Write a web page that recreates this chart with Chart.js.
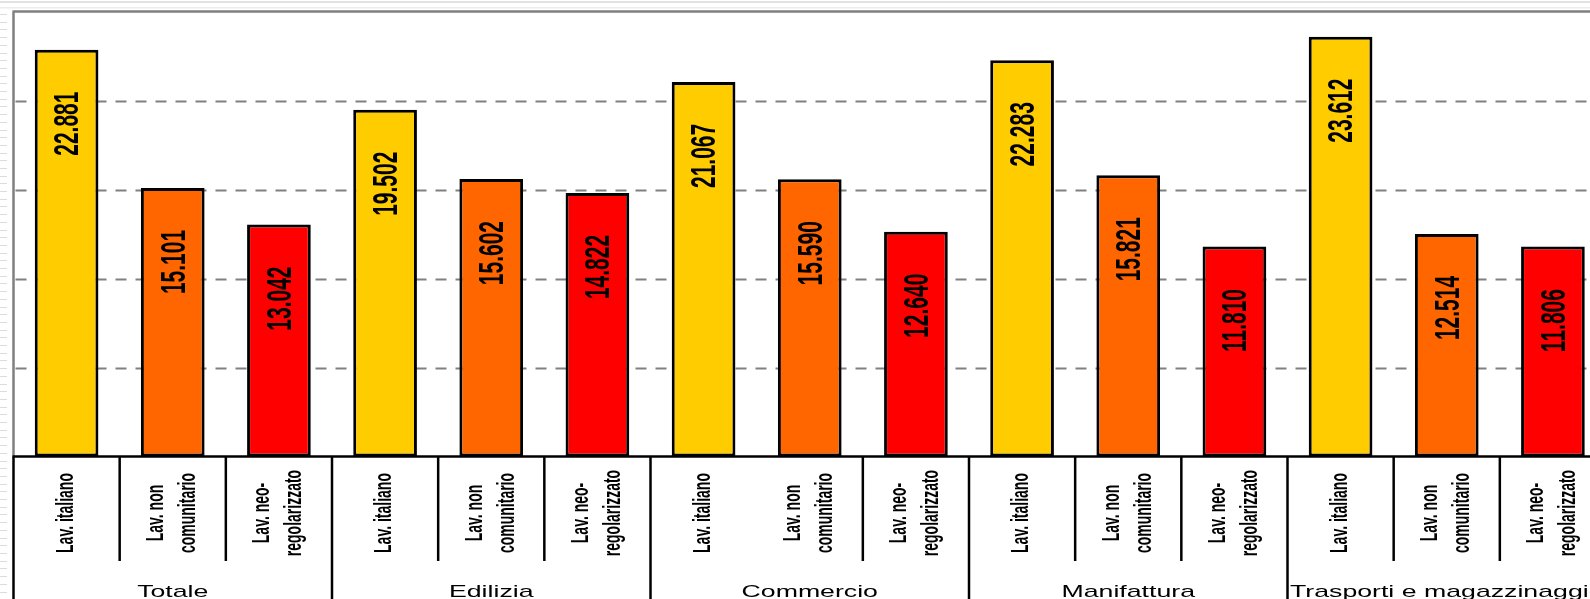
<!DOCTYPE html>
<html lang="it">
<head>
<meta charset="utf-8">
<title>Retribuzioni per tipologia di lavoratore e settore</title>
<script src="https://cdn.jsdelivr.net/npm/chart.js@4/dist/chart.umd.min.js"></script>
<style>
  html, body { margin: 0; padding: 0; background: #ffffff; overflow: hidden; width: 1590px; height: 599px; }
  #wrap { position: relative; width: 1606px; height: 599px; }
  canvas { display: block; }
</style>
</head>
<body>
<div id="wrap"><canvas id="chart" width="1606" height="599"></canvas></div>
<script>
// Sectors (group labels under the axis) and worker types (one bar each per sector)
const sectors = ['Totale', 'Edilizia', 'Commercio', 'Manifattura', 'Trasporti e magazzinaggio'];
const workerTypes = [['Lav. italiano'], ['Lav. non', 'comunitario'], ['Lav. neo-', 'regolarizzato']];

// Values per worker type, one per sector
const italiani         = [22881, 19502, 21067, 22283, 23612];
const nonComunitari    = [15101, 15602, 15590, 15821, 12514];
const neoRegolarizzati = [13042, 14822, 12640, 11810, 11806];

// Value axis
const yTicks = [5000, 10000, 15000, 20000];
const yMax = 25000;

// Category boundaries that carry no separator line (index of the category on the left)
const hiddenDividers = [6];

const seriesValues = [italiani, nonComunitari, neoRegolarizzati];
const seriesColors = ['#FFCC00', '#FF6600', '#FF0000'];

// One category per bar: sector × worker type
const labels = [];
sectors.forEach(() => workerTypes.forEach(t => labels.push(t)));

const datasets = seriesValues.map((vals, k) => {
  const data = labels.map(() => null);
  vals.forEach((v, s) => { data[s * workerTypes.length + k] = v; });
  return {
    label: workerTypes[k].join(' '),
    data,
    backgroundColor: seriesColors[k],
    borderColor: '#000000',
    borderWidth: 3,
    borderSkipped: false,
    grouped: false,
    barPercentage: 0.6,
    categoryPercentage: 1.0
  };
});

const fmt = n => String(n).replace(/\B(?=(\d{3})+(?!\d))/g, '.');

// Slide edge, frame and dashed gridlines behind the bars
const backdrop = {
  id: 'backdrop',
  beforeDatasetsDraw(chart) {
    const { ctx, chartArea: a, scales: { y } } = chart;
    ctx.save();
    // light slide edge
    ctx.fillStyle = '#e2e2e2';
    ctx.fillRect(0, 1, chart.width, 2);
    ctx.fillStyle = '#ececec';
    ctx.fillRect(0, 7, chart.width, 1.5);
    ctx.fillStyle = '#dcdcdc';
    for (let yy = 14; yy < chart.height; yy += 7.7) ctx.fillRect(0, Math.round(yy), 7, 1);

    // dashed gridlines
    ctx.strokeStyle = '#808080';
    ctx.lineWidth = 2;
    ctx.setLineDash([11, 9]);
    yTicks.forEach(v => {
      const py = Math.round(y.getPixelForValue(v)) + 0.5;
      ctx.beginPath();
      ctx.moveTo(a.left + 2, py);
      ctx.lineTo(a.right, py);
      ctx.stroke();
    });
    ctx.setLineDash([]);

    // plot frame: top and left in grey
    ctx.lineWidth = 2.5;
    ctx.beginPath();
    ctx.moveTo(a.left - 1, 11.5);
    ctx.lineTo(chart.width, 11.5);
    ctx.moveTo(a.left, 11.5);
    ctx.lineTo(a.left, a.bottom);
    ctx.stroke();
    ctx.restore();
  }
};

// Value labels, rotated inside the bars
const valueLabels = {
  id: 'valueLabels',
  afterDatasetsDraw(chart) {
    const { ctx } = chart;
    const size = 21, stretch = 1.7;
    ctx.save();
    ctx.fillStyle = '#000000';
    ctx.font = 'bold ' + size + 'px "Liberation Sans", Arial, sans-serif';
    ctx.textAlign = 'center';
    ctx.textBaseline = 'alphabetic';
    chart.data.datasets.forEach((ds, di) => {
      chart.getDatasetMeta(di).data.forEach((el, i) => {
        const v = ds.data[i];
        if (v === null) return;
        ctx.save();
        ctx.translate(el.x - 1, el.y + 74);
        ctx.rotate(-Math.PI / 2);
        ctx.scale(1, stretch);
        ctx.fillText(fmt(v), 0, size * 0.716 / 2);
        ctx.restore();
      });
    });
    ctx.restore();
  }
};

// Category axis: base line, separators, worker-type labels and sector labels
const categoryAxis = {
  id: 'categoryAxis',
  afterDraw(chart) {
    const { ctx, chartArea: a, scales: { x } } = chart;
    const n = labels.length;
    const per = workerTypes.length;
    const half = (x.getPixelForValue(1) - x.getPixelForValue(0)) / 2;
    const innerBottom = 561;
    ctx.save();
    ctx.strokeStyle = '#000000';
    ctx.lineWidth = 2.5;

    // base line
    ctx.beginPath();
    ctx.moveTo(a.left - 1, a.bottom);
    ctx.lineTo(chart.width, a.bottom);
    ctx.stroke();

    // left edge
    ctx.beginPath();
    ctx.moveTo(a.left, a.bottom);
    ctx.lineTo(a.left, chart.height);
    ctx.stroke();

    // separators between categories
    for (let i = 0; i < n - 1; i++) {
      if (hiddenDividers.includes(i)) continue;
      const px = x.getPixelForValue(i) + half;
      const groupEnd = (i % per) === per - 1;
      ctx.beginPath();
      ctx.moveTo(px, a.bottom);
      ctx.lineTo(px, groupEnd ? chart.height : innerBottom);
      ctx.stroke();
    }

    // worker-type labels, rotated
    const tSize = 14, tStretch = 1.65, lineGap = 32;
    ctx.fillStyle = '#000000';
    ctx.font = 'bold ' + tSize + 'px "Liberation Sans", Arial, sans-serif';
    ctx.textAlign = 'center';
    ctx.textBaseline = 'alphabetic';
    labels.forEach((lines, i) => {
      const cx = x.getPixelForValue(i) - 2;
      lines.forEach((line, li) => {
        const off = (li - (lines.length - 1) / 2) * lineGap;
        ctx.save();
        ctx.translate(cx + off, 513);
        ctx.rotate(-Math.PI / 2);
        ctx.scale(1, tStretch);
        ctx.fillText(line, 0, tSize * 0.716 / 2);
        ctx.restore();
      });
    });

    // sector labels
    const gSize = 17, gStretch = 1.57;
    ctx.font = gSize + 'px "Liberation Sans", Arial, sans-serif';
    sectors.forEach((s, si) => {
      const l = x.getPixelForValue(si * per) - half;
      const r = x.getPixelForValue(si * per + per - 1) + half;
      ctx.save();
      ctx.translate((l + r) / 2, 597);
      ctx.scale(gStretch, 1);
      ctx.fillText(s, 0, 0);
      ctx.restore();
    });
    ctx.restore();
  }
};

new Chart(document.getElementById('chart'), {
  type: 'bar',
  data: { labels, datasets },
  options: {
    responsive: false,
    devicePixelRatio: 1,
    animation: false,
    layout: { padding: { left: 13.5, right: 0, top: 12, bottom: 142.5 } },
    plugins: { legend: { display: false }, tooltip: { enabled: false }, title: { display: false } },
    scales: {
      x: { type: 'category', display: false, offset: true },
      y: { display: false, min: 0, max: yMax }
    }
  },
  plugins: [backdrop, valueLabels, categoryAxis]
});
</script>
</body>
</html>
